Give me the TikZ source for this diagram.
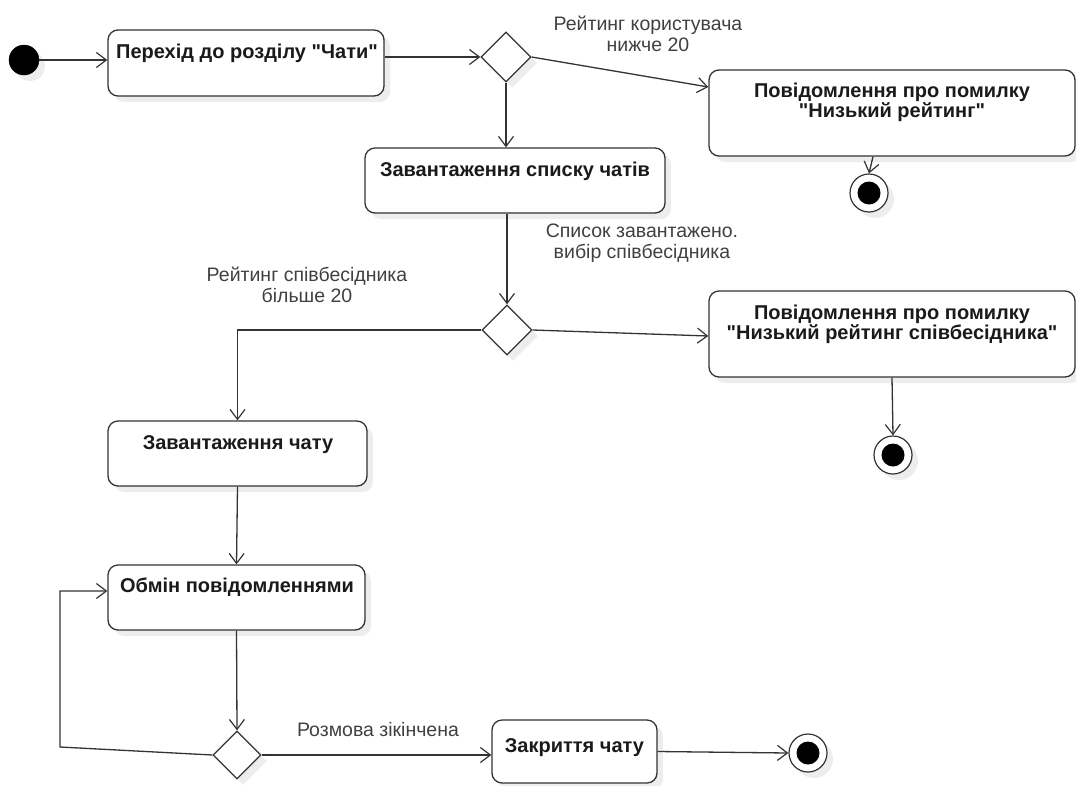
\documentclass[tikz,border=0pt]{standalone}
\usepackage{fontspec}
\setmainfont{Liberation Sans}[Ligatures=TeXOff]
\usetikzlibrary{arrows.meta,shapes.geometric,shadows}
\definecolor{ink}{HTML}{333333}
\definecolor{txt}{HTML}{1A1A1A}
\definecolor{lbl}{HTML}{404040}
\tikzset{
  shade/.style={drop shadow={shadow xshift=6pt,shadow yshift=-6pt,fill=black,opacity=0.07}},
  actbox/.style={draw=ink,line width=1.3pt,rounded corners=10pt,fill=white,shade,inner sep=0pt},
  boxtext/.style={text=txt,font=\fontsize{20}{19.5}\selectfont\bfseries,align=center,inner sep=0pt,anchor=base},
  edgelabel/.style={text=lbl,font=\fontsize{19.5}{20.5}\selectfont,align=center,inner sep=0pt,anchor=base},
  decision/.style={diamond,draw=ink,line width=1.2pt,fill=white,shade,minimum width=50pt,minimum height=50pt,inner sep=0pt},
  initial/.style={circle,fill=black,draw=black,minimum size=30pt,inner sep=0pt,shade},
  final/.style={circle,draw=ink,line width=1.2pt,fill=white,minimum size=38pt,inner sep=0pt,shade,
    path picture={\fill[black] (path picture bounding box.center) circle (11.5pt);}},
  flow/.style={draw=ink,line width=1.3pt,-{Straight Barb[length=10pt,width=15pt,line width=1.2pt]}}
}
\begin{document}
\begin{tikzpicture}[x=1pt,y=-1pt]
\useasboundingbox (0,0) rectangle (1076,785);

% start and first activity
\node[initial] (start) at (24,60) {};
\node[actbox,minimum width=276pt,minimum height=66pt] (b1) at (246,63) {};
\node[boxtext] (b1t) at (247,58) {Перехід до розділу "Чати"};

% first decision and user-rating error
\node[decision] (d1) at (506,57) {};
\node[actbox,minimum width=366pt,minimum height=86pt] (e1) at (892,113) {};
\node[boxtext] (e1t) at (892,117) {Повідомлення про помилку\\"Низький рейтинг"};
\node[final] (f1) at (869,193) {};

% chat list loading
\node[actbox,minimum width=300pt,minimum height=65pt] (b2) at (515,180.5) {};
\node[boxtext] (b2t) at (515,176) {Завантаження списку чатів};

% second decision and partner-rating error
\node[decision] (d2) at (507,330) {};
\node[actbox,minimum width=366pt,minimum height=86pt] (e2) at (892,334) {};
\node[boxtext] (e2t) at (892,339) {Повідомлення про помилку\\"Низький рейтинг співбесідника"};
\node[final] (f2) at (893,455) {};

% chat activities
\node[actbox,minimum width=259pt,minimum height=65pt] (b3) at (237.5,453.5) {};
\node[boxtext] (b3t) at (238,449) {Завантаження чату};
\node[actbox,minimum width=257pt,minimum height=65pt] (b4) at (236.5,597.5) {};
\node[boxtext] (b4t) at (237,592) {Обмін повідомленнями};

% end of conversation
\node[decision,minimum width=48pt,minimum height=48pt] (d3) at (237,755) {};
\node[actbox,minimum width=165pt,minimum height=63pt] (b5) at (574.5,751.5) {};
\node[boxtext] (b5t) at (574.5,752) {Закриття чату};
\node[final] (f3) at (808,753) {};

% guard labels
\node[edgelabel] (l1) at (648,51) {Рейтинг користувача\\нижче 20};
\node[edgelabel] (l2) at (642,258) {Список завантажено.\\вибір співбесідника};
\node[edgelabel] (l3) at (307,302) {Рейтинг співбесідника\\більше 20};
\node[edgelabel] (l4) at (378,736) {Розмова зікінчена};

% control flows
\coordinate (loopbot) at (60,747);
\coordinate (looptop) at (60,591);
\draw[flow] (start) -- (start -| b1.west);
\draw[flow] (d1 -| b1.east) -- (d1.west);
\draw[flow] (d1.east) -- ([yshift=26pt]e1.west);
\draw[flow] (d1.south) -- (d1.south |- b2.north);
\draw[flow] ([xshift=-19pt]e1.south) -- (f1.north);
\draw[flow] (b2.south -| d2) -- (d2.north);
\draw[flow] (d2.east) -- ([yshift=-2pt]e2.west);
\draw[flow] (e2.south) -- (f2.north);
\draw[flow] (d2.west) -| (b3.north);
\draw[flow] (b3.south) -- (b4.north);
\draw[flow] (b4.south) -- (d3.north);
\draw[flow] (d3.west) -- (loopbot) -- (looptop) -- (looptop -| b4.west);
\draw[flow] (d3.east) -- (d3.east -| b5.west);
\draw[flow] (b5.east) -- (f3.west);
\end{tikzpicture}
\end{document}
